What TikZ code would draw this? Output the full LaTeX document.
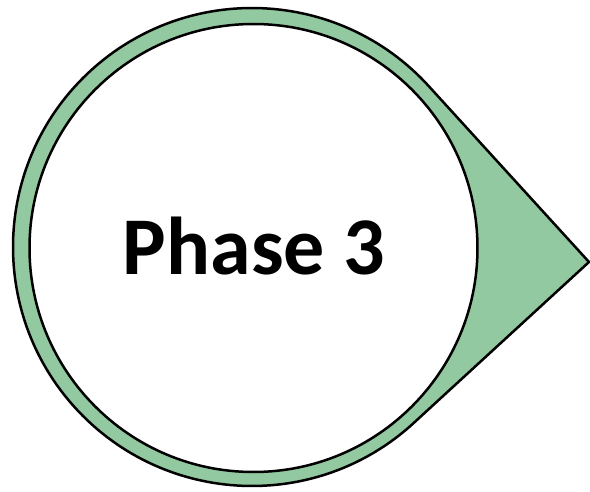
\documentclass[tikz,border=0pt]{standalone}
\usepackage{fontspec}
\setmainfont{Carlito}
\usepackage{tikz}
\usetikzlibrary{calc}

\definecolor{phasegreen}{RGB}{147,201,161}

\begin{document}
\begin{tikzpicture}[x=1pt, y=1pt]

  \useasboundingbox (0,0) rectangle (590,491);

  \coordinate (C) at (252,244);
  \coordinate (T) at (589,229);

  \draw [line width=2.5pt, fill=phasegreen, line join=miter]
    ($(C)+(42.5:239)$) -- (T) -- ($(C)+(-47.5:239)$)
    arc [start angle=-47.5, end angle=-317.5, radius=239] -- cycle;

  \draw [line width=2.5pt, fill=white] (253.5,243) circle [radius=224];

  \node (label) at (254,245) {\fontsize{82}{90}\selectfont\bfseries Phase 3};

\end{tikzpicture}
\end{document}
